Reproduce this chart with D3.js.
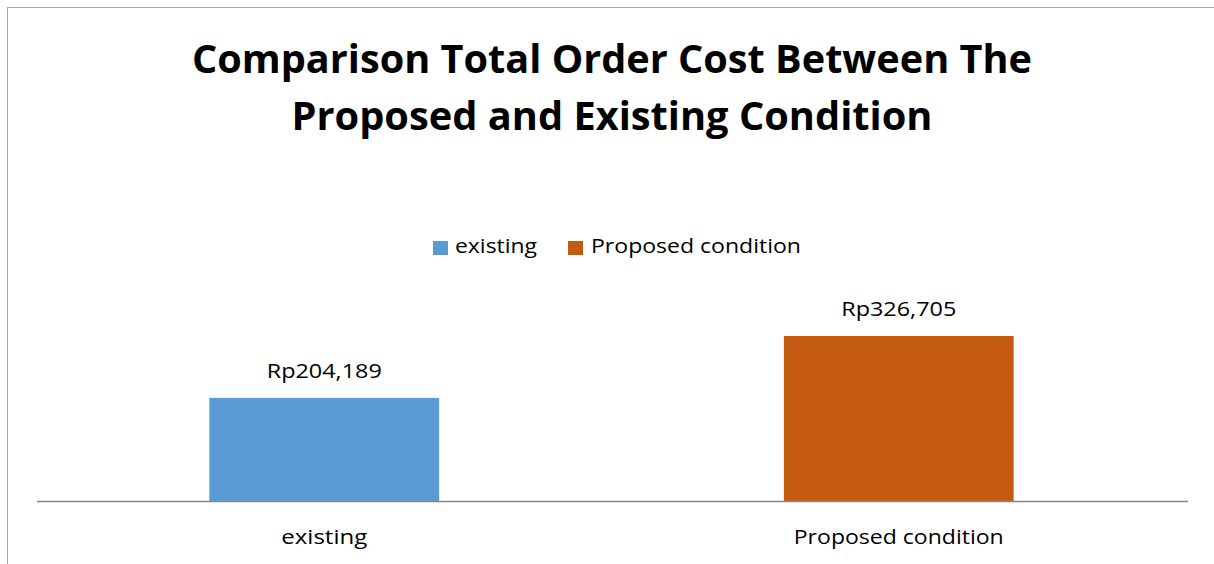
<!DOCTYPE html>
<html>
<head>
<meta charset="utf-8">
<script src="https://cdn.jsdelivr.net/npm/d3@7"></script>
<style>
  html, body { margin: 0; padding: 0; background: #fff; }
  svg { display: block; }
  text { font-family: "Open Sans", "Noto Sans", sans-serif; fill: #000; }
</style>
</head>
<body>
<svg id="chart" width="1214" height="564"></svg>
<script>
const titleLines = ["Comparison Total Order Cost Between The", "Proposed and Existing Condition"];
const categories = ["existing", "Proposed condition"];
const seriesNames = ["existing", "Proposed condition"];
const values = [204189, 326705];
const valueLabels = ["Rp204,189", "Rp326,705"];
const colors = ["#5B9BD5", "#C55A11"];
const yDomain = [0, 400000];

const W = 1214, H = 564;
const svg = d3.select("#chart");
const plot = { left: 37, right: 1186, axisRight: 1188, top: 299, bottom: 501 };

// outer border (chart area frame)
svg.append("rect")
  .attr("x", 7.5).attr("y", 7.5)
  .attr("width", W + 20).attr("height", H + 20)
  .attr("fill", "none").attr("stroke", "#A6A6A6").attr("stroke-width", 1);

function fit(sel, w) {
  sel.each(function() {
    const len = this.getComputedTextLength();
    if (len > 0) d3.select(this).attr("textLength", w).attr("lengthAdjust", "spacingAndGlyphs");
  });
}

// title
const titleWidths = [840, 641];
titleLines.forEach((t, i) => {
  svg.append("text")
    .attr("x", 612).attr("y", 73 + i * 57)
    .attr("text-anchor", "middle")
    .attr("font-size", 39).attr("font-weight", "bold")
    .text(t)
    .call(fit, titleWidths[i]);
});

const x = d3.scaleBand().domain(categories)
  .range([plot.left, plot.right]).paddingInner(0.6).paddingOuter(0.3);
const y = d3.scaleLinear().domain(yDomain).range([plot.bottom, plot.top]);

// bars
svg.append("g").selectAll("rect")
  .data(categories)
  .join("rect")
  .attr("x", d => x(d))
  .attr("y", (d, i) => y(values[i]))
  .attr("width", x.bandwidth())
  .attr("height", (d, i) => y(0) - y(values[i]))
  .attr("fill", (d, i) => colors[i]);

// value labels
const labelWidths = [115, 115];
svg.append("g").selectAll("text")
  .data(categories)
  .join("text")
  .attr("x", d => x(d) + x.bandwidth() / 2)
  .attr("y", (d, i) => y(values[i]) - 20)
  .attr("text-anchor", "middle")
  .attr("font-size", 20)
  .text((d, i) => valueLabels[i])
  .each(function(d, i) { d3.select(this).call(fit, labelWidths[i]); });

// x axis
const xAxis = d3.axisBottom(x).tickSize(0).tickPadding(0);
const gx = svg.append("g").attr("transform", `translate(0,${plot.bottom})`).call(xAxis);
gx.select(".domain").attr("stroke", "#868686").attr("stroke-width", 1.3)
  .attr("d", `M${plot.left},0.5H${plot.axisRight}`);
const catWidths = [86, 210];
gx.selectAll(".tick text")
  .attr("dy", null).attr("y", 43)
  .attr("font-size", 20).attr("font-family", "'Open Sans', sans-serif").attr("fill", "#000")
  .each(function(d, i) { d3.select(this).call(fit, catWidths[i]); });

// legend
const legendItems = [
  { sq: 433, tx: 455, w: 82 },
  { sq: 568, tx: 591, w: 210 }
];
const lg = svg.append("g");
seriesNames.forEach((s, i) => {
  lg.append("rect").attr("x", legendItems[i].sq).attr("y", 241)
    .attr("width", 15).attr("height", 14).attr("fill", colors[i]);
  lg.append("text").attr("x", legendItems[i].tx).attr("y", 253)
    .attr("font-size", 20).text(s).call(fit, legendItems[i].w);
});
</script>
</body>
</html>
